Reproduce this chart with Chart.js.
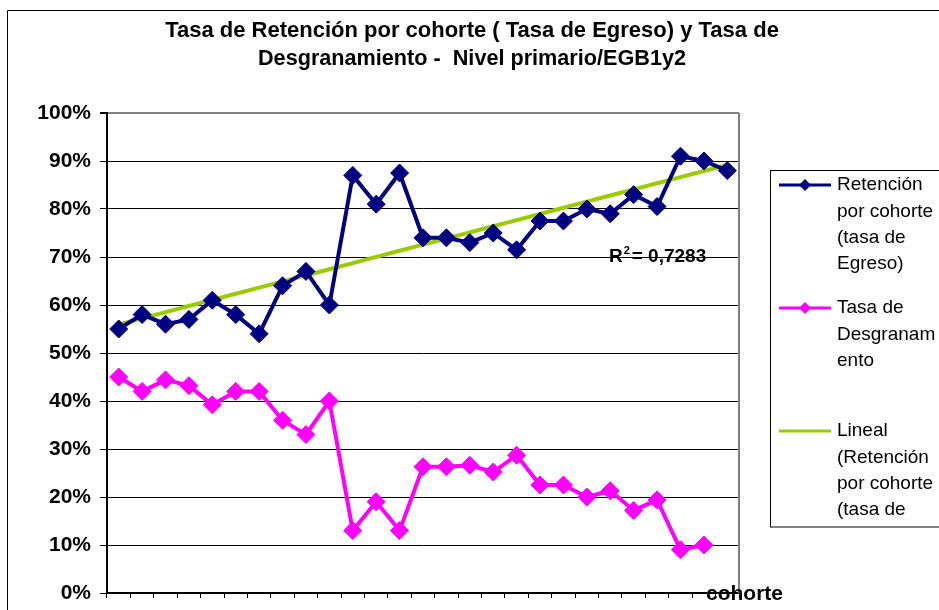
<!DOCTYPE html>
<html>
<head>
<meta charset="utf-8">
<script src="https://cdn.jsdelivr.net/npm/chart.js@4"></script>
<style>
  html, body { margin: 0; padding: 0; background: #fff; }
  #wrap { width: 939px; height: 610px; }
</style>
</head>
<body>
<div id="wrap"><canvas id="TasaChart" width="939" height="610"></canvas></div>
<script>
const cohortes = Array.from({ length: 27 }, (_, i) => String(i + 1));
const retencion = [55, 58, 56, 57, 61, 58, 54, 64, 67, 60, 87, 81, 87.5, 74, 74, 73, 75, 71.5, 77.5, 77.5, 80, 79, 83, 80.5, 91, 90, 88];
const desgranamiento = [45, 42, 44.4, 43.2, 39.2, 42, 42, 36, 33, 40, 13, 19, 13, 26.3, 26.3, 26.6, 25.2, 28.7, 22.5, 22.5, 20, 21.3, 17.2, 19.4, 9, 10, null];
const yTicks = [0, 10, 20, 30, 40, 50, 60, 70, 80, 90, 100];
const tituloLineas = ['Tasa de Retención por cohorte ( Tasa de Egreso) y Tasa de', 'Desgranamiento -  Nivel primario/EGB1y2'];
const r2Texto = '0,7283';

// linear trend (least squares) of retention, like Excel's trendline
function tendencia(vals) {
  const n = vals.length;
  let sx = 0, sy = 0, sxy = 0, sxx = 0;
  vals.forEach((v, i) => { const x = i + 1; sx += x; sy += v; sxy += x * v; sxx += x * x; });
  const b = (n * sxy - sx * sy) / (n * sxx - sx * sx);
  const a = (sy - b * sx) / n;
  return vals.map((v, i) => a + b * (i + 1));
}
const lineal = tendencia(retencion);

const NAVY = '#000080';
const MAGENTA = '#FF00FF';
const GREEN = '#99CC00';

const decor = {
  id: 'decor',
  beforeDraw(chart) {
    const c = chart.ctx;
    c.save();
    c.fillStyle = '#fff';
    c.fillRect(0, 0, chart.width, chart.height);
    c.restore();
  },
  afterDraw(chart) {
    const c = chart.ctx;
    const a = chart.chartArea;
    c.save();
    // outer chart frame
    c.strokeStyle = '#000';
    c.lineWidth = 1;
    c.beginPath();
    c.moveTo(7.5, 611);
    c.lineTo(7.5, 10.5);
    c.lineTo(940, 10.5);
    c.stroke();

    // plot area border (right side)
    c.strokeStyle = '#808080';
    c.lineWidth = 2;
    c.beginPath();
    c.moveTo(a.right, a.top);
    c.lineTo(a.right, a.bottom);
    c.stroke();

    // title
    c.fillStyle = '#000';
    c.textAlign = 'center';
    c.textBaseline = 'alphabetic';
    c.font = 'bold 22px "Liberation Sans", Arial, sans-serif';
    c.fillText(tituloLineas[0], 472, 37, 618);
    c.fillText(tituloLineas[1], 472, 65, 428);

    // R² label
    c.textAlign = 'left';
    c.font = 'bold 19px "Liberation Sans", Arial, sans-serif';
    c.fillText('R', 609, 262);
    const rw = c.measureText('R').width;
    c.font = 'bold 11px "Liberation Sans", Arial, sans-serif';
    c.fillText('2', 609 + rw + 1, 254);
    c.font = 'bold 19px "Liberation Sans", Arial, sans-serif';
    c.fillText('= ' + r2Texto, 609 + rw + 9, 262);

    // axis title
    c.font = 'bold 21px "Liberation Sans", Arial, sans-serif';
    c.fillText('cohorte', 706, 600);

    // legend
    c.strokeStyle = '#000';
    c.lineWidth = 1;
    c.strokeRect(770.5, 170.5, 200, 356.5);
    const items = [
      { color: NAVY, marker: true, y: 185, lines: ['Retención', 'por cohorte', '(tasa de', 'Egreso)'] },
      { color: MAGENTA, marker: true, y: 308, lines: ['Tasa de', 'Desgranam', 'ento'] },
      { color: GREEN, marker: false, y: 431, lines: ['Lineal', '(Retención', 'por cohorte', '(tasa de'] }
    ];
    c.font = '19px "Liberation Sans", Arial, sans-serif';
    c.textBaseline = 'middle';
    items.forEach(it => {
      c.strokeStyle = it.color;
      c.lineWidth = 3;
      c.beginPath();
      c.moveTo(779, it.y);
      c.lineTo(831, it.y);
      c.stroke();
      if (it.marker) {
        c.fillStyle = it.color;
        c.beginPath();
        c.moveTo(805, it.y - 6);
        c.lineTo(811, it.y);
        c.lineTo(805, it.y + 6);
        c.lineTo(799, it.y);
        c.closePath();
        c.fill();
      }
      c.fillStyle = '#000';
      it.lines.forEach((t, k) => c.fillText(t, 837, it.y + k * 26.3));
    });
    c.restore();
  }
};

const ctx = document.getElementById('TasaChart');

new Chart(ctx, {
  type: 'line',
  data: {
    labels: cohortes,
    datasets: [{
      label: 'Retención por cohorte (tasa de Egreso)',
      data: retencion,
      borderColor: NAVY,
      backgroundColor: NAVY,
      borderWidth: 4,
      pointStyle: 'rectRot',
      pointRadius: 9,
      pointBorderWidth: 1,
      tension: 0
    }, {
      label: 'Tasa de Desgranamiento',
      data: desgranamiento,
      borderColor: MAGENTA,
      backgroundColor: MAGENTA,
      borderWidth: 4,
      pointStyle: 'rectRot',
      pointRadius: 9,
      pointBorderWidth: 1,
      tension: 0
    }, {
      label: 'Lineal (Retención por cohorte (tasa de Egreso))',
      data: lineal,
      borderColor: GREEN,
      borderWidth: 4,
      pointRadius: 0,
      tension: 0
    }]
  },
  plugins: [decor],
  options: {
    responsive: false,
    animation: false,
    layout: { padding: { left: 0, top: 113, right: 200, bottom: 0 } },
    plugins: {
      legend: { display: false },
      title: { display: false },
      tooltip: { enabled: false }
    },
    scales: {
      y: {
        min: 0,
        max: 100,
        afterFit(scale) {
          scale.width = 107;
          scale.paddingTop = 0;
          scale.paddingBottom = 0;
        },
        afterBuildTicks(scale) { scale.ticks = yTicks.map(v => ({ value: v })); },
        ticks: {
          padding: 9,
          color: '#000',
          font: { family: '"Liberation Sans", Arial, sans-serif', size: 21, weight: 'bold' },
          callback: v => v + '%'
        },
        grid: {
          color: c => c.tick && c.tick.value === 100 ? '#808080' : '#000',
          lineWidth: c => c.tick && c.tick.value === 100 ? 2 : 1,
          tickLength: 7,
          tickColor: '#000'
        },
        border: { display: true, color: '#000', width: 2 }
      },
      x: {
        offset: true,
        afterFit(scale) { scale.height = 17; },
        ticks: { display: false },
        grid: {
          offset: true,
          drawOnChartArea: false,
          drawTicks: true,
          tickLength: 5,
          tickColor: '#000',
          color: '#000'
        },
        border: { display: true, color: '#000', width: 2 }
      }
    }
  }
});
</script>
</body>
</html>
